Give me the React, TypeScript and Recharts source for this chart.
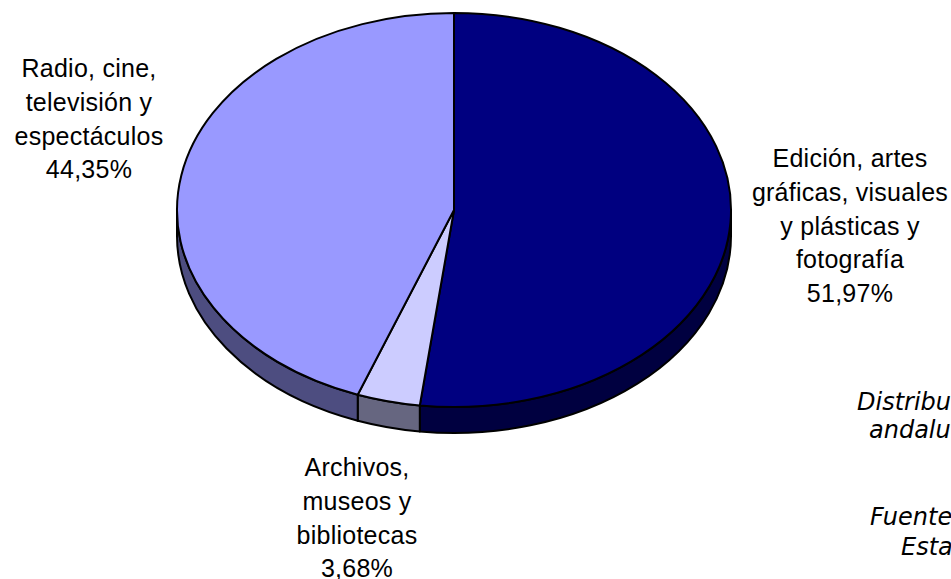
import React from "react";
import { PieChart, Pie, Cell } from "recharts";

const categories = ["Edición, artes gráficas, visuales y plásticas y fotografía", "Archivos, museos y bibliotecas", "Radio, cine, televisión y espectáculos"];
const shares = [51.97, 3.68, 44.35];
const topColors = ["#000080", "#CCCCFF", "#9999FF"];
const wallColors = ["#000040", "#666680", "#4D4D80"];
const labelLines = [
  ["Edición, artes", "gráficas, visuales", "y plásticas y", "fotografía", "51,97%"],
  ["Archivos,", "museos y", "bibliotecas", "3,68%"],
  ["Radio, cine,", "televisión y", "espectáculos", "44,35%"],
];
const noteLines = [
  ["Distribu", "andalu"],
  ["Fuente", "Esta"],
];

const data = categories.map((name, i) => ({ name, value: shares[i] }));

const W = 951, H = 579;
const CX = 454, CY = 210, RX = 277, RY = 197, DEPTH = 26;
const RATIO = RY / RX;
const RAD = Math.PI / 180;

function pt(cx: number, cy: number, r: number, a: number, dy = 0) {
  return [cx + r * Math.cos(a * RAD), cy - r * RATIO * Math.sin(a * RAD) + dy];
}

function TopSector(p: any) {
  const { cx, cy, outerRadius: r, startAngle, endAngle, fill } = p;
  const [x1, y1] = pt(cx, cy, r, startAngle);
  const [x2, y2] = pt(cx, cy, r, endAngle);
  const large = Math.abs(endAngle - startAngle) > 180 ? 1 : 0;
  const d = `M${cx},${cy} L${x1},${y1} A${r},${r * RATIO} 0 ${large} 1 ${x2},${y2} Z`;
  return <path d={d} fill={fill} stroke="#000" strokeWidth={2} strokeLinejoin="round" />;
}

function WallSector(p: any) {
  const { cx, cy, outerRadius: r, startAngle, endAngle, fill } = p;
  // only the part of the rim facing the viewer (below the horizontal axis)
  const a1 = Math.min(startAngle, 0);
  const a2 = Math.max(endAngle, -180);
  if (a1 <= a2) return <g />;
  const [x1, y1] = pt(cx, cy, r, a1);
  const [x2, y2] = pt(cx, cy, r, a2);
  const [x3, y3] = pt(cx, cy, r, a2, DEPTH);
  const [x4, y4] = pt(cx, cy, r, a1, DEPTH);
  const ry = r * RATIO;
  const d = `M${x1},${y1} A${r},${ry} 0 0 1 ${x2},${y2} L${x3},${y3} A${r},${ry} 0 0 0 ${x4},${y4} Z`;
  return <path d={d} fill={fill} stroke="#000" strokeWidth={2} strokeLinejoin="round" />;
}

const labelStyle = { fontFamily: "'Liberation Sans', Arial, sans-serif", fontSize: 25, letterSpacing: 0.25, fill: "#000" };
const noteStyle = { fontFamily: "'DejaVu Sans', Verdana, sans-serif", fontSize: 24, fontStyle: "italic" as const, fill: "#000" };

const labelAnchors = [
  { x: 850, y: 167 },
  { x: 357, y: 476 },
  { x: 89, y: 77 },
];
const LINE = 33.8;

export default function App() {
  return (
    <div style={{ position: "absolute", left: 0, top: 0, width: W, height: H, overflow: "hidden", background: "#fff" }}>
      <PieChart width={W} height={H} margin={{ top: 0, right: 0, bottom: 0, left: 0 }}>
        <Pie data={data} dataKey="value" cx={CX} cy={CY} outerRadius={RX} innerRadius={0} startAngle={90} endAngle={-270}
          stroke="none" isAnimationActive={false} shape={WallSector} legendType="none">
          {wallColors.map((c) => <Cell key={c} fill={c} />)}
        </Pie>
        <Pie data={data} dataKey="value" cx={CX} cy={CY} outerRadius={RX} innerRadius={0} startAngle={90} endAngle={-270}
          stroke="none" isAnimationActive={false} shape={TopSector} legendType="none">
          {topColors.map((c) => <Cell key={c} fill={c} />)}
        </Pie>
        {labelLines.map((lines, i) => (
          <text key={i} textAnchor="middle" style={labelStyle}>
            {lines.map((l, j) => (
              <tspan key={j} x={labelAnchors[i].x} y={labelAnchors[i].y + j * LINE}>{l}</tspan>
            ))}
          </text>
        ))}
        <text style={noteStyle}>
          <tspan x={857} y={410}>{noteLines[0][0]}</tspan>
          <tspan x={869} y={438}>{noteLines[0][1]}</tspan>
          <tspan x={870} y={525}>{noteLines[1][0]}</tspan>
          <tspan x={901} y={555}>{noteLines[1][1]}</tspan>
        </text>
      </PieChart>
    </div>
  );
}
